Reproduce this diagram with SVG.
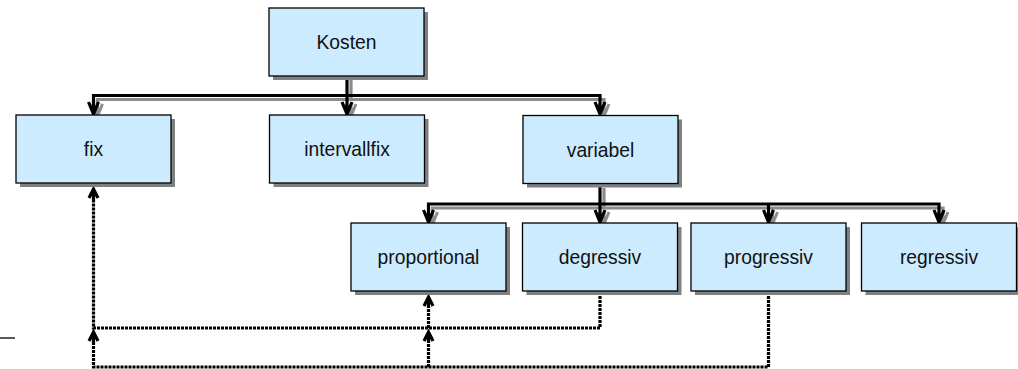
<svg xmlns="http://www.w3.org/2000/svg" xmlns:xlink="http://www.w3.org/1999/xlink" width="1018" height="369" viewBox="0 0 1018 369">
<style>
.box{fill:#CCEBFF;stroke:#000;stroke-width:1.3}
.shadow{fill:#808080}
.lbl{font-family:"Liberation Sans",Arial,sans-serif;font-size:19.3px;fill:#111;text-anchor:middle}
.solid{fill:none;stroke:#000;stroke-width:3.2}
.solidsh{fill:none;stroke:#8c8c8c;stroke-width:3.2}
.dot{fill:none;stroke:#000;stroke-width:3.2;stroke-dasharray:3 1}
.head{fill:none;stroke:#000;stroke-width:3.2}
.headsh{fill:none;stroke:#8c8c8c;stroke-width:3}
</style>
<defs>
<path id="down" d="M-5,-13 L0,-1 L5,-13 M0,-13 V-1"/>
<path id="up" d="M-4.5,10 L0,1 L4.5,10 M0,1 V12"/>
</defs>
<line x1="0" y1="338" x2="15" y2="338" stroke="#222" stroke-width="1.5"/>
<g id="connectors">
<g class="solidsh" transform="translate(4,4)">
<path d="M347,76 V95.5 M93.5,102 V95.5 H600 V102"/>
<path d="M600,184 V204 M428.5,210 V204 H939 V210 M768.5,204 V210"/>
</g>
<g class="solid">
<path d="M347,76 V95.5 M93.5,102 V95.5 H600 V102"/>
<path d="M347,95.5 V102"/>
<path d="M600,184 V204 M428.5,210 V204 H939 V210 M768.5,204 V210 M600,204 V210"/>
</g>
<g class="headsh" transform="translate(4,2)">
<use xlink:href="#down" transform="translate(93.5,115)"/>
<use xlink:href="#down" transform="translate(347,115)"/>
<use xlink:href="#down" transform="translate(600,115)"/>
<use xlink:href="#down" transform="translate(428.5,223)"/>
<use xlink:href="#down" transform="translate(600,223)"/>
<use xlink:href="#down" transform="translate(768.5,223)"/>
<use xlink:href="#down" transform="translate(939,223)"/>
</g>
<g class="head">
<use xlink:href="#down" transform="translate(93.5,115)"/>
<use xlink:href="#down" transform="translate(347,115)"/>
<use xlink:href="#down" transform="translate(600,115)"/>
<use xlink:href="#down" transform="translate(428.5,223)"/>
<use xlink:href="#down" transform="translate(600,223)"/>
<use xlink:href="#down" transform="translate(768.5,223)"/>
<use xlink:href="#down" transform="translate(939,223)"/>
</g>
<g class="dot">
<path d="M600,296 V328 H93.5 V200"/>
<path d="M428.5,328 V307"/>
<path d="M768.5,296 V367 H93.5 V343"/>
<path d="M428.5,367 V343"/>
</g>
<g class="head">
<use xlink:href="#up" transform="translate(93.5,188)"/>
<use xlink:href="#up" transform="translate(428.5,296)"/>
<use xlink:href="#up" transform="translate(93.5,331)"/>
<use xlink:href="#up" transform="translate(428.5,331)"/>
</g>
</g>
<g id="kosten"><rect class="shadow" x="273" y="12" width="155" height="68"/><rect class="box" x="269" y="8" width="155" height="68"/><text class="lbl" x="346.5" y="49">Kosten</text></g>
<g id="fix"><rect class="shadow" x="20" y="119" width="155" height="68"/><rect class="box" x="16" y="115" width="155" height="68"/><text class="lbl" x="93.5" y="156">fix</text></g>
<g id="intervallfix"><rect class="shadow" x="273.5" y="119" width="155" height="68"/><rect class="box" x="269.5" y="115" width="155" height="68"/><text class="lbl" x="347" y="156">intervallfix</text></g>
<g id="variabel"><rect class="shadow" x="527" y="119.5" width="155" height="68"/><rect class="box" x="523" y="115.5" width="155" height="68"/><text class="lbl" x="600.5" y="156.5">variabel</text></g>
<g id="proportional"><rect class="shadow" x="355" y="227" width="155" height="68"/><rect class="box" x="351" y="223" width="155" height="68"/><text class="lbl" x="428.5" y="264">proportional</text></g>
<g id="degressiv"><rect class="shadow" x="526.5" y="227" width="155" height="68"/><rect class="box" x="522.5" y="223" width="155" height="68"/><text class="lbl" x="600" y="264">degressiv</text></g>
<g id="progressiv"><rect class="shadow" x="695" y="227" width="155" height="68"/><rect class="box" x="691" y="223" width="155" height="68"/><text class="lbl" x="768.5" y="264">progressiv</text></g>
<g id="regressiv"><rect class="shadow" x="865.5" y="227" width="155" height="68"/><rect class="box" x="861.5" y="223" width="155" height="68"/><text class="lbl" x="939" y="264">regressiv</text></g>
</svg>
